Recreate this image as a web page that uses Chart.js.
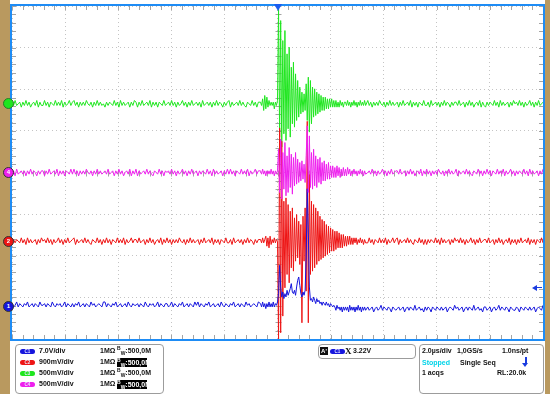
<!DOCTYPE html>
<html>
<head>
<meta charset="utf-8">
<script src="https://cdn.jsdelivr.net/npm/chart.js@4.4.0/dist/chart.umd.min.js"></script>
<style>
body{margin:0;width:550px;height:398px;position:relative;background:#fff;overflow:hidden;font-family:"Liberation Sans",Arial,sans-serif}
.tan{position:absolute;top:0;height:394px;background:#b9995f}
#frame{position:absolute;left:10px;top:4px;width:531px;height:333px;border:2px solid #1e8cf5}
#frame canvas{display:block}
.box{position:absolute;border:1px solid #9c9c9c;border-radius:4px;background:#fff}
.t{position:absolute;font-size:7px;font-weight:bold;color:#111;white-space:nowrap;line-height:8px}
.t sup,.t sub{font-size:5px;line-height:0}
.hl{background:#000;color:#fff;overflow:hidden;width:30px;height:9px;line-height:9px}
.pill{position:absolute;width:15px;height:5px;border-radius:3px;font-size:4.5px;font-weight:bold;color:#e8e8ff;text-align:center;line-height:5px}
.marker{position:absolute;width:9px;height:9px;border-radius:50%;font-size:6px;font-weight:bold;color:#fff;text-align:center;line-height:9px;border:1px solid #333}
</style>
</head>
<body>
<div class="tan" style="left:0;width:10px"></div>
<div class="tan" style="left:545px;width:5px"></div>
<div id="frame"><canvas id="scope" width="531" height="333"></canvas></div>

<div class="box" style="left:15px;top:344px;width:147px;height:48px"></div>
<div class="box" style="left:318px;top:344px;width:96px;height:13px"></div>
<div class="box" style="left:419px;top:344px;width:123px;height:48px"></div>
<div id="overlay"></div>

<script>
// time base: 2 us/div, 10 divisions, trigger at centre
const X_MIN = -10, X_MAX = 10, X_DIV = 2;
const Y_MIN = -4, Y_MAX = 4;
const CODES_PER_DIV = 25;          // raw ADC codes per division
const PRE_T = [-10, -0.72];
const BURST_T = [-0.64, 3.32];
const POST_T = [3.40, 10];

const channels = ['C1', 'C2', 'C3', 'C4'];
const voltsDiv = ['7.0V/div', '900mV/div', '500mV/div', '500mV/div'];
const offsets = [-3.23, -1.65, 1.65, 0];   // channel position, divisions
const colors = ['#1515dd', '#ee1414', '#1fe61f', '#ee1fee'];
const trigLevel = 3.22, trigScale = 7.0;

// CH1 (blue), ADC codes
const bluePre = [
  2,0,1,3,0,2,1,0,2,1,3,0,1,2,0,2,1,0,3,1, 1,2,0,2,1,0,3,1,0,2,1,2,0,1,3,0,2,1,0,2,
  0,2,1,3,0,1,2,0,2,1,0,3,1,2,0,1,2,1,0,3, 3,0,2,1,0,2,1,3,0,1,2,0,1,2,0,3,1,0,2,1,
  1,2,0,2,1,0,3,1,0,2,1,2,0,1,3,0,2,1,0,2, 2,0,1,3,0,2,1,0,2,1,3,0,1,2,0,2,1,0,3,1,
  3,0,2,1,0,2,1,3,0,1,2,0,1,2,0,3,1,0,2,1, 0,2,1,3,0,1,2,0,2,1,0,3,1,2,0,1,2,1,0,3];
const blueBurst = [2,0,3,0,2,-1,2,0,3,0, 2,0,3,0,2,1,3,8,25,12, 6,9,5,8,6,10,7,9,11,14, 9,8,10,7,12,16,18,13,8,6,
  9,7,10,30,71,45,12,4,5,3, 6,4,2,5,3,4,2,3,1,3, 2,1,3,1,2,0,2,1,0,1, 0,-2,1,-1,0,-2,0,-3,0,-2, 0,-2,0,-3,1,-2,0,-2,0,-3, 0,-2,1,-2,0,-3,0,-2,0,-2];
const bluePost = [
  0,-2,-1,0,-3,-1,0,-2,-1,1,-2,0,-1,-2,0,-1,-3,0,-1,-2, -1,0,-2,-1,0,-3,-1,0,-2,0,-1,-2,1,-2,-1,0,-2,-1,-3,0,
  -2,0,-1,-3,0,-1,-2,0,-1,-2,0,-2,-1,0,-3,-1,0,-1,-2,1, -1,0,-2,-1,0,-3,-1,0,-2,0,-1,-2,1,-2,-1,0,-2,-1,-3,0,
  0,-2,-1,0,-3,-1,0,-2,-1,1,-2,0,-1,-2,0,-1,-3,0,-1,-2, -2,0,-1,-3,0,-1,-2,0,-1,-2,0,-2,-1,0,-3,-1,0,-1,-2,1];

// CH2 (red)
const redPre = [
  -2,1,-1,1,0,-1,2,-1,1,-2,2,-1,1,-1,0,1,-2,1,-1,2, 0,1,-1,2,-1,1,-2,1,-1,0,2,-1,1,-2,1,-1,2,-1,0,1,
  2,-2,1,-1,0,1,-1,2,-1,1,-1,-2,1,0,-1,2,-1,1,-2,1, -1,2,-1,1,-2,1,0,-1,2,-1,1,-1,2,-2,1,-1,0,2,-1,1,
  1,-1,2,-1,0,1,-2,1,-1,2,-1,1,-2,0,1,-1,2,-2,1,-1, 2,-1,1,-2,1,-1,1,-1,2,0,-1,1,-2,1,-1,2,-1,1,-1,0,
  1,-2,1,-1,2,-1,0,1,-1,2,-2,1,-1,1,-2,1,0,-1,2,-1, -1,1,-2,2,-1,0,1,-1,1,-2,1,-1,2,-1,1,0,-2,1,-1,1];
const redBurst = [1,-1,2,-1,1,3,-3,2,-4,3, -2,1,-1,2,-1,1,0,-59,68,-55, 60,-45,24,-28,26,-20,22,-25,18,-16, 20,-18,14,-12,16,-10,12,-14,10,-49,
  15,-12,20,-30,72,-49,40,-20,24,-18, 22,-16,20,-14,18,-12,15,-11,13,-10, 12,-9,10,-8,9,-7,8,-6,7,-6, 6,-5,6,-4,5,-4,4,-4,4,-3, 3,-3,3,-2,3,-2,2,-2,2,-1, 2,-2,1,-1,2,-1,1,-2,1,-1];
const redPost = [
  -1,2,-1,1,-2,1,0,-1,2,-1,1,-1,2,-2,1,-1,0,2,-1,1, 2,-2,1,-1,0,1,-1,2,-1,1,-1,-2,1,0,-1,2,-1,1,-2,1,
  -2,1,-1,1,0,-1,2,-1,1,-2,2,-1,1,-1,0,1,-2,1,-1,2, 0,1,-1,2,-1,1,-2,1,-1,0,2,-1,1,-2,1,-1,2,-1,0,1,
  1,-1,2,-1,0,1,-2,1,-1,2,-1,1,-2,0,1,-1,2,-2,1,-1, 1,-2,1,-1,2,-1,0,1,-1,2,-2,1,-1,1,-2,1,0,-1,2,-1];

// CH3 (green)
const greenPre = [
  1,-1,2,-1,0,1,-2,1,-1,2,-1,1,-2,0,1,-1,2,-2,1,-1, -1,2,-1,1,-2,1,0,-1,2,-1,1,-1,2,-2,1,-1,0,2,-1,1,
  2,-1,1,-2,1,-1,1,-1,2,0,-1,1,-2,1,-1,2,-1,1,-1,0, -2,1,-1,1,0,-1,2,-1,1,-2,2,-1,1,-1,0,1,-2,1,-1,2,
  1,-2,1,-1,2,-1,0,1,-1,2,-2,1,-1,1,-2,1,0,-1,2,-1, 0,1,-1,2,-1,1,-2,1,-1,0,2,-1,1,-2,1,-1,2,-1,0,1,
  -1,1,-2,2,-1,0,1,-1,1,-2,1,-1,2,-1,1,0,-2,1,-1,1, 2,-2,1,-1,0,1,-1,2,-1,1,-1,-2,1,0,-1,2,-1,1,-2,1];
const greenBurst = [1,-1,3,-4,5,-3,4,-2,2,-1, 1,-1,1,-3,1,-1,2,57,-20,50, -26,38,-18,44,-22,30,-15,34,-20,22, -12,25,-14,18,-10,14,-8,10,-6,7,
  -5,6,-4,12,-10,16,-17,14,-12,10, -8,9,-7,7,-6,6,-5,5,-4,4, -4,4,-3,3,-3,3,-2,3,-2,2, -2,2,-2,1,-2,2,-1,1,-2,1, 1,-1,2,-1,1,-2,1,-1,2,-1, 1,-2,1,-1,2,-1,1,-1,2,-1];
const greenPost = [
  2,-1,1,-2,1,-1,1,-1,2,0,-1,1,-2,1,-1,2,-1,1,-1,0, 1,-2,1,-1,2,-1,0,1,-1,2,-2,1,-1,1,-2,1,0,-1,2,-1,
  -1,1,-2,2,-1,0,1,-1,1,-2,1,-1,2,-1,1,0,-2,1,-1,1, 1,-1,2,-1,0,1,-2,1,-1,2,-1,1,-2,0,1,-1,2,-2,1,-1,
  -2,1,-1,1,0,-1,2,-1,1,-2,2,-1,1,-1,0,1,-2,1,-1,2, 0,1,-1,2,-1,1,-2,1,-1,0,2,-1,1,-2,1,-1,2,-1,0,1];

// CH4 (magenta)
const magentaPre = [
  -1,1,-2,2,-1,0,1,-1,1,-2,1,-1,2,-1,1,0,-2,1,-1,1, 1,-2,1,-1,2,-1,0,1,-1,2,-2,1,-1,1,-2,1,0,-1,2,-1,
  2,-1,1,-2,1,-1,1,-1,2,0,-1,1,-2,1,-1,2,-1,1,-1,0, 1,-1,2,-1,0,1,-2,1,-1,2,-1,1,-2,0,1,-1,2,-2,1,-1,
  2,-2,1,-1,0,1,-1,2,-1,1,-1,-2,1,0,-1,2,-1,1,-2,1, 0,1,-1,2,-1,1,-2,1,-1,0,2,-1,1,-2,1,-1,2,-1,0,1,
  -2,1,-1,1,0,-1,2,-1,1,-2,2,-1,1,-1,0,1,-2,1,-1,2, -1,2,-1,1,-2,1,0,-1,2,-1,1,-1,2,-2,1,-1,0,2,-1,1];
const magentaBurst = [1,-1,2,-1,1,-2,1,-1,1,-1, 2,-1,1,-2,1,-1,1,14,-12,20, -16,12,-10,18,-14,10,-12,15,-9,11, -13,9,-8,12,-7,8,-6,6,-5,7,
  -4,5,-6,10,28,-12,22,-9,12,-10, 14,-8,10,-9,8,-6,9,-7,6,-5, 7,-5,5,-4,6,-4,4,-3,4,-3, 3,-3,4,-2,3,-3,2,-2,3,-2, 2,-2,3,-1,2,-2,1,-1,2,-1, 1,-2,1,-1,2,-1,1,-2,1,-1];
const magentaPost = [
  0,1,-1,2,-1,1,-2,1,-1,0,2,-1,1,-2,1,-1,2,-1,0,1, 1,-1,2,-1,0,1,-2,1,-1,2,-1,1,-2,0,1,-1,2,-2,1,-1,
  2,-1,1,-2,1,-1,1,-1,2,0,-1,1,-2,1,-1,2,-1,1,-1,0, 2,-2,1,-1,0,1,-1,2,-1,1,-1,-2,1,0,-1,2,-1,1,-2,1,
  -1,2,-1,1,-2,1,0,-1,2,-1,1,-1,2,-2,1,-1,0,2,-1,1, -2,1,-1,1,0,-1,2,-1,1,-2,2,-1,1,-1,0,1,-2,1,-1,2];

function timeBase(n, t0, t1) {
  return Array.from({length: n}, (_, i) => t0 + (t1 - t0) * i / (n - 1));
}

function trace(pre, burst, post, offset) {
  const pts = [];
  [[pre, PRE_T], [burst, BURST_T], [post, POST_T]].forEach(([vals, span]) => {
    const ts = timeBase(vals.length, span[0], span[1]);
    vals.forEach((v, i) => pts.push({x: ts[i], y: offset + v / CODES_PER_DIV}));
  });
  return pts;
}

// graticule minor ticks on the edges and centre lines
const scopeTicks = {
  id: 'scopeTicks',
  beforeDatasetsDraw(chart) {
    const {ctx, chartArea: a, scales: {x, y}} = chart;
    const cx = Math.round(x.getPixelForValue(0)) + 0.5;
    const cy = Math.round(y.getPixelForValue(0)) + 0.5;
    ctx.save();
    ctx.strokeStyle = '#a4a4a4';
    ctx.lineWidth = 1;
    ctx.beginPath();
    for (let k = 0; k <= (X_MAX - X_MIN) / X_DIV * 5; k++) {
      const p = Math.round(x.getPixelForValue(X_MIN + k * X_DIV / 5)) + 0.5;
      ctx.moveTo(p, a.top); ctx.lineTo(p, a.top + 4);
      ctx.moveTo(p, a.bottom); ctx.lineTo(p, a.bottom - 4);
      ctx.moveTo(p, cy - 3); ctx.lineTo(p, cy + 3);
    }
    for (let k = 0; k <= (Y_MAX - Y_MIN) * 5; k++) {
      const p = Math.round(y.getPixelForValue(Y_MIN + k / 5)) + 0.5;
      ctx.moveTo(a.left, p); ctx.lineTo(a.left + 4, p);
      ctx.moveTo(a.right, p); ctx.lineTo(a.right - 4, p);
      ctx.moveTo(cx - 3, p); ctx.lineTo(cx + 3, p);
    }
    ctx.stroke();
    ctx.restore();
  }
};

const series = [
  trace(bluePre, blueBurst, bluePost, offsets[0]),
  trace(redPre, redBurst, redPost, offsets[1]),
  trace(greenPre, greenBurst, greenPost, offsets[2]),
  trace(magentaPre, magentaBurst, magentaPost, offsets[3])
];
const drawOrder = [2, 3, 4, 1];

const chart = new Chart(document.getElementById('scope'), {
  type: 'line',
  data: {
    datasets: channels.map((c, i) => ({
      label: c,
      data: series[i],
      borderColor: colors[i],
      borderWidth: 1,
      pointRadius: 0,
      tension: 0,
      order: drawOrder[i]
    }))
  },
  options: {
    responsive: false,
    animation: false,
    events: [],
    layout: {padding: 0},
    plugins: {legend: {display: false}, tooltip: {enabled: false}},
    scales: {
      x: {
        type: 'linear', min: X_MIN, max: X_MAX,
        ticks: {display: false, stepSize: X_DIV},
        grid: {color: '#c4c4c4', drawTicks: false},
        border: {display: false, dash: [1, 3]}
      },
      y: {
        type: 'linear', min: Y_MIN, max: Y_MAX,
        ticks: {display: false, stepSize: 1},
        grid: {color: '#c4c4c4', drawTicks: false},
        border: {display: false, dash: [1, 3]}
      }
    }
  },
  plugins: [scopeTicks]
});

// overlays positioned from the chart's scales
const ov = document.getElementById('overlay');
const X0 = 12, Y0 = 6;
const xs = chart.scales.x, ys = chart.scales.y;
function add(html, style, cls) {
  const d = document.createElement('div');
  if (cls) d.className = cls;
  d.style.cssText = 'position:absolute;' + style;
  d.innerHTML = html;
  ov.appendChild(d);
  return d;
}
channels.forEach((c, i) => {
  const py = Y0 + ys.getPixelForValue(offsets[i]);
  add(c.slice(1), `left:3px;top:${py - 5.5}px;background:${colors[i]};` + (i === 2 ? 'color:#1fe61f;border-color:#2a7a2a' : ''), 'marker');
});
// trigger position marker
const tx = X0 + xs.getPixelForValue(0);
add('', `left:${tx - 4}px;top:4px;width:0;height:0;border-left:4px solid transparent;border-right:4px solid transparent;border-top:7px solid #1a5cf0`);
// trigger level arrow
const ly = Y0 + ys.getPixelForValue(offsets[0] + trigLevel / trigScale);
add('', `left:532px;top:${ly - 3}px;width:0;height:0;border-top:3px solid transparent;border-bottom:3px solid transparent;border-right:5px solid #1a3ce0`);
add('', `left:536px;top:${ly - 0.5}px;width:6px;height:1px;background:#1a3ce0`);

// channel settings box
const rowTop = [347, 358, 369, 380];
channels.forEach((c, i) => {
  add(c, `left:20px;top:${rowTop[i] + 2}px;background:${colors[i]}`, 'pill');
  add(voltsDiv[i], `left:39px;top:${rowTop[i]}px`, 't');
  add('1MΩ', `left:100px;top:${rowTop[i]}px`, 't');
  const bw = '<sup>B</sup><sub>W</sub>:500,0M';
  if (i % 2) add(bw, `left:117px;top:${rowTop[i] - 0.5}px`, 't hl');
  else add(bw, `left:117px;top:${rowTop[i]}px`, 't');
});

// trigger box
add("A'", 'left:320px;top:347px;width:8px;height:8px;background:#111;color:#fff;font-size:6px;line-height:8px;text-align:center', 't');
add('C1', `left:330px;top:349px;background:${colors[0]}`, 'pill');
add('X', 'left:345px;top:346px;font-family:"Liberation Serif",serif;font-size:9px;line-height:10px', 't');
add(trigLevel.toFixed(2) + 'V', 'left:353px;top:347px', 't');

// timebase box
add('2.0µs/div', 'left:422px;top:347px', 't');
add('1,0GS/s', 'left:457px;top:347px', 't');
add('1.0ns/pt', 'left:502px;top:347px', 't');
add('Stopped', 'left:422px;top:358.5px;color:#00d4e8', 't');
add('Single Seq', 'left:460px;top:358.5px', 't');
add('', 'left:524.5px;top:357px;width:2px;height:6px;background:#1a3ce0');
add('', 'left:522px;top:363px;width:0;height:0;border-left:3.5px solid transparent;border-right:3.5px solid transparent;border-top:4px solid #1a3ce0');
add('1 acqs', 'left:422px;top:369px', 't');
add('RL:20.0k', 'left:497px;top:369px', 't');
</script>
</body>
</html>
